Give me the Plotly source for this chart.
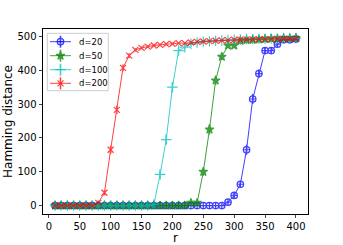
import plotly.graph_objects as go

r = list(range(10, 401, 10))

d20 = [0]*28 + [10, 30, 63, 165, 315, 390, 458, 458, 477, 490, 490, 492]
d20_err = [0]*28 + [3, 8, 10, 15, 15, 12, 8, 8, 5, 4, 4, 3]

d50 = [0]*22 + [8, 8, 100, 225, 370, 440, 473, 473, 487, 489, 490, 491, 492, 493, 493, 494, 494, 495]
d50_err = [0]*22 + [2, 2, 12, 15, 14, 10, 6, 6, 4, 3, 3, 3, 3, 2, 2, 2, 2, 2]

d100 = [0]*16 + [3, 92, 195, 350, 458, 468, 478, 482, 485, 486, 487, 488, 489, 490, 491, 492, 492, 493, 493, 494, 494, 495, 495, 495]
d100_err = [0]*16 + [2, 12, 14, 15, 8, 6, 5, 4, 4, 4, 3, 3, 3, 3, 3, 3, 3, 2, 2, 2, 2, 2, 2, 2]

d200 = [0]*7 + [8, 38, 165, 283, 407, 443, 460, 466, 470, 473, 475, 477, 478, 480, 480, 482, 484, 485, 486, 487, 488, 489, 490, 490, 491, 491, 492, 492, 492, 493, 493, 493, 493]
d200_err = [0]*7 + [3, 8, 12, 12, 10, 7, 5, 4, 4, 4, 4, 4, 4, 3, 3, 3, 3, 3, 3, 3, 3, 3, 3, 3, 3, 3, 3, 3, 3, 3, 3, 3, 3]

names = ["d=20", "d=50", "d=100", "d=200"]
values = [d20, d50, d100, d200]
errors = [d20_err, d50_err, d100_err, d200_err]
x_ticks = list(range(0, 401, 50))
y_ticks = list(range(0, 501, 100))

styles = [
    ("#0000ff", "circle-cross-open", 6.5),
    ("#008000", "star", 6.5),
    ("#00bfbf", "cross-thin-open", 7.5),
    ("#ff0000", "x-thin-open", 6),
]

W, H = 343, 245
L, R, T, B = 43, 308, 29, 214  # plot area in pixels
PW, PH = R - L, B - T

def px(x):
    return (x - L) / PW

def py(y):
    return (B - y) / PH

fig = go.Figure()
for name, y, e, (c, sym, sz) in zip(names, values, errors, styles):
    fig.add_trace(go.Scatter(
        x=r, y=y, name=name, mode="lines+markers", showlegend=False,
        line=dict(color=c, width=1),
        marker=dict(symbol=sym, size=sz, color=c, line=dict(color=c, width=1.2)),
        error_y=dict(type="data", array=e, color=c, thickness=1.5, width=0),
        opacity=0.75,
    ))

# custom legend (matplotlib-like compact layout)
leg_rows = [41.7, 55.7, 69.7, 83.3]
fig.add_shape(type="rect", xref="paper", yref="paper",
              x0=px(47.3), x1=px(108.3), y0=py(90.7), y1=py(33.3),
              line=dict(color="#cccccc", width=1), fillcolor="rgba(255,255,255,0.8)",
              layer="below")
for name, rowy, (c, sym, sz) in zip(names, leg_rows, styles):
    fig.add_trace(go.Scatter(
        x=[px(50), px(71)], y=[py(rowy)] * 2, xaxis="x2", yaxis="y2",
        mode="lines", line=dict(color=c, width=1), opacity=0.75,
        showlegend=False, hoverinfo="skip"))
    fig.add_trace(go.Scatter(
        x=[px(60.5)], y=[py(rowy)], xaxis="x2", yaxis="y2",
        mode="markers", showlegend=False, hoverinfo="skip", opacity=0.75,
        marker=dict(symbol=sym, size=sz, color=c, line=dict(color=c, width=1.2)),
        error_y=dict(type="constant", value=6 / PH, color=c, thickness=1.5, width=0)))
    fig.add_annotation(xref="paper", yref="paper", x=px(77), y=py(rowy),
                       text=name, showarrow=False, xanchor="left", yanchor="middle",
                       font=dict(size=8.5, color="black"))

fig.update_layout(
    width=W, height=H,
    margin=dict(l=L, r=W - R, t=T, b=H - B, pad=0),
    paper_bgcolor="white", plot_bgcolor="white",
    font=dict(family="DejaVu Sans", size=10, color="black"),
    showlegend=False,
    xaxis2=dict(overlaying="x", range=[0, 1], visible=False, anchor="y2"),
    yaxis2=dict(overlaying="y", range=[0, 1], visible=False, anchor="x2"),
)
fig.layout.xaxis.update(range=[-9.5, 419.5], tickvals=x_ticks, automargin=False,
                        showgrid=False, zeroline=False, showline=True, linecolor="black",
                        linewidth=0.8, mirror=True, ticks="outside", ticklen=3.5, tickwidth=0.8,
                        title=dict(text="r", font=dict(size=12), standoff=1))
fig.layout.yaxis.update(range=[-24.85, 521.85], tickvals=y_ticks, automargin=False,
                        showgrid=False, zeroline=False, showline=True, linecolor="black",
                        linewidth=0.8, mirror=True, ticks="outside", ticklen=3.5, tickwidth=0.8,
                        title=dict(text="Hamming distance", font=dict(size=12), standoff=2))

fig.write_html("out.html", post_script="document.body.style.margin='0';",
               config={"displayModeBar": False})
